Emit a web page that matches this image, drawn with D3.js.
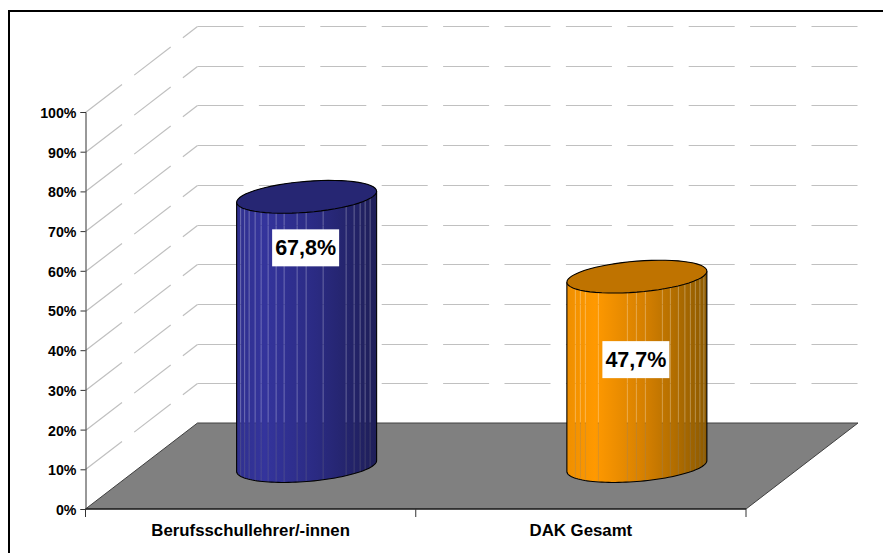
<!DOCTYPE html>
<html>
<head>
<meta charset="utf-8">
<script src="https://cdn.jsdelivr.net/npm/d3@7"></script>
<style>
  html, body { margin: 0; padding: 0; background: #fff; }
  text { font-family: "Liberation Sans", Arial, sans-serif; font-weight: 700; fill: #000; }
</style>
</head>
<body>
<svg id="chart" width="883" height="553"></svg>
<script>
// values
const categories = ["Berufsschullehrer/-innen", "DAK Gesamt"];
const values = [67.8, 47.7];
const yTicks = [0, 10, 20, 30, 40, 50, 60, 70, 80, 90, 100];

// cylinder colours, seams (px from the left side) and how far each label sits below the top
const bodyStops = [
  ["#30308f", "#34349c", "#2b2b84", "#1e1e58"],
  ["#ef8f00", "#ff9900", "#d68000", "#8c5a00"]
];
const lidColors = ["#262673", "#bf7300"];
const seams = [
  [4, 8, 12.5, 18.5, 24.5, 31.5, 39.5, 47.5, 60.5, 69.5, 86.5, 109.5, 117.5, 123.5, 128.5, 133.5],
  [8.5, 13.5, 18.5, 31.5, 60.5, 69.5, 78.5, 95.5, 103.5, 111.5, 118, 123.5, 128.5, 133, 137]
];
const labelDrop = [51, 83];

const svg = d3.select("#chart");
const depth = { x: 112, y: -86 };
const radius = 70, tilt = 5.5, lidH = 15.5;

const x = d3.scaleBand().domain(categories).range([85.5, 746]);
const y = d3.scaleLinear().domain([0, 100]).range([509, 112]);
const pct = d3.formatLocale({ decimal: ",", thousands: ".", grouping: [3], currency: ["", "€"] });

// outer frame, only left and top are inside the picture
svg.append("path").attr("d", "M9,553V11H883")
  .attr("fill", "none").attr("stroke", "#000").attr("stroke-width", 2);

// walls: dashed grid from front corner to back corner and along the back
const grid = svg.append("g").attr("fill", "none").attr("stroke", "#c0c0c0")
  .attr("stroke-width", 1.2).attr("stroke-dasharray", "46 15.4");
yTicks.filter(d => d > 0).forEach(d => {
  const gy = Math.round(y(d)) + 0.5;
  grid.append("line").attr("x1", x.range()[0]).attr("y1", gy)
    .attr("x2", x.range()[0] + depth.x).attr("y2", gy + depth.y);
  grid.append("line").attr("x1", x.range()[0] + depth.x).attr("y1", gy + depth.y)
    .attr("x2", x.range()[1] + depth.x).attr("y2", gy + depth.y);
});

// floor
const x0 = x.range()[0], x1 = x.range()[1], y0 = y(0);
svg.append("path")
  .attr("d", `M${x0},${y0}L${x1},${y0}L${x1 + depth.x},${y0 + depth.y}L${x0 + depth.x},${y0 + depth.y}Z`)
  .attr("fill", "#808080").attr("stroke", "#404040").attr("stroke-width", 1);
svg.append("line").attr("x1", x0).attr("x2", x1).attr("y1", y0).attr("y2", y0)
  .attr("stroke", "#000").attr("stroke-width", 1.2);

// axes
const yAxis = svg.append("g").attr("transform", `translate(${x0},0)`)
  .call(d3.axisLeft(y).tickValues(yTicks).tickSize(5).tickPadding(4).tickFormat(d => d + "%"));
const xAxis = svg.append("g").attr("transform", `translate(0,${y0})`)
  .call(d3.axisBottom(x).tickSize(0).tickPadding(15.5));
yAxis.select(".domain").attr("stroke", "#333");
yAxis.selectAll(".tick line").attr("stroke", "#333");
xAxis.select(".domain").remove();
yAxis.selectAll("text").attr("font-size", 14.2).attr("dy", "0.38em");
xAxis.selectAll("text").attr("font-size", 16.8);
svg.append("g").selectAll("line")
  .data([x0, x0 + x.step(), x1]).join("line")
  .attr("x1", d => d).attr("x2", d => d).attr("y1", y0).attr("y2", y0 + 8)
  .attr("stroke", "#333");

// cylinder outline helpers: circle on the floor seen in perspective
const rim = (cx, cy, t) => [cx + radius * Math.cos(t), cy - tilt * Math.cos(t) - lidH * Math.sin(t)];
const line = d3.line();
const arc = (cx, cy, from, to) => d3.range(0, 61).map(i => rim(cx, cy, from + (to - from) * i / 60));

const defs = svg.append("defs");

categories.forEach((c, i) => {
  const cx = x(c) + x.bandwidth() / 2 + depth.x / 2;
  const topY = y(values[i]) + depth.y / 2;
  const botY = y0 + depth.y / 2;
  const left = cx - radius;

  const grad = defs.append("linearGradient").attr("id", "body" + i)
    .attr("gradientUnits", "userSpaceOnUse")
    .attr("x1", left).attr("x2", cx + radius).attr("y1", 0).attr("y2", 0);
  [0, 0.2, 0.55, 1].forEach((o, k) => {
    grad.append("stop").attr("offset", o).attr("stop-color", bodyStops[i][k]);
  });

  // seams let the background through, so they read light on the wall and grey on the floor
  const mask = defs.append("mask").attr("id", "seams" + i)
    .attr("maskUnits", "userSpaceOnUse")
    .attr("x", left - 2).attr("y", topY - 30).attr("width", radius * 2 + 4).attr("height", botY - topY + 60);
  mask.append("rect").attr("x", left - 2).attr("y", topY - 30)
    .attr("width", radius * 2 + 4).attr("height", botY - topY + 60).attr("fill", "#fff");
  mask.selectAll("line").data(seams[i]).join("line")
    .attr("x1", d => left + d).attr("x2", d => left + d)
    .attr("y1", topY - 30).attr("y2", botY + 30)
    .attr("stroke", "#000").attr("stroke-opacity", 0.3).attr("stroke-width", 1);

  // lower half of the rim runs through sin(t) < 0, so sweep from the left point round to the right one
  const bottom = arc(cx, botY, Math.PI, 2 * Math.PI);
  const bodyPts = [...arc(cx, topY, 0, Math.PI), ...bottom];

  svg.append("path").attr("d", line(bodyPts) + "Z")
    .attr("fill", `url(#body${i})`).attr("mask", `url(#seams${i})`);

  // outline: sides and lower rim, then the lid on top
  svg.append("path")
    .attr("d", line([rim(cx, topY, Math.PI), ...bottom, rim(cx, topY, 0)]))
    .attr("fill", "none").attr("stroke", "#000").attr("stroke-width", 1.1);
  svg.append("path").attr("d", line(arc(cx, topY, 0, 2 * Math.PI)) + "Z")
    .attr("fill", lidColors[i]).attr("stroke", "#000").attr("stroke-width", 1.1);

  // value label
  const label = pct.format(".1f")(values[i]) + "%";
  const ly = topY + labelDrop[i];
  svg.append("rect").attr("x", cx - 34.5).attr("y", ly - 18.5).attr("width", 67).attr("height", 37)
    .attr("fill", "#fff");
  svg.append("text").attr("x", cx - 1).attr("y", ly + 7.5).attr("text-anchor", "middle")
    .attr("font-size", 21.5).text(label);
});
</script>
</body>
</html>
